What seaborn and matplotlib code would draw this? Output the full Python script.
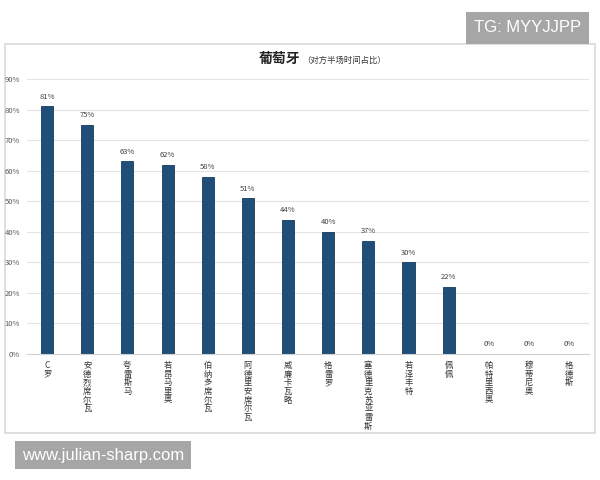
import numpy as np
import pandas as pd
import matplotlib
matplotlib.use("Agg")
import matplotlib.pyplot as plt
import seaborn as sns
from matplotlib.patches import Rectangle

# data
players = ["C罗", "安德烈席尔瓦", "夸雷斯马", "若昂马里奥", "伯纳多席尔瓦",
           "阿德里安席尔瓦", "威廉卡瓦略", "格雷罗", "塞德里克苏亚雷斯",
           "若泽丰特", "佩佩", "帕特里西奥", "穆蒂尼奥", "格德斯"]
share = [81, 75, 63, 62, 58, 51, 44, 40, 37, 30, 22, 0, 0, 0]
yticks = [0, 10, 20, 30, 40, 50, 60, 70, 80, 90]

df = pd.DataFrame({"player": players, "share": share})

sns.set_style("white")
plt.rcParams['font.family'] = ['Noto Sans CJK SC', 'DejaVu Sans']

fig = plt.figure(figsize=(6, 4.8), dpi=100)

# chart panel border
fig.patches.append(Rectangle((0.008, 0.098), 0.984, 0.81, transform=fig.transFigure,
                             facecolor='white', edgecolor='#d9d9d9', lw=1.2, zorder=-1))

ax = fig.add_axes([0.045, 0.2625, 0.937, 0.573])
sns.barplot(data=df, x="player", y="share", color="#1f4e79", width=0.3,
            saturation=1, edgecolor="#163a5c", linewidth=0.6, ax=ax)

ax.bar_label(ax.containers[0], labels=[f"{v}%" for v in share],
             fontsize=5.5, color="#404040", padding=4)

ax.set_ylim(0, 90)
ax.set_xlim(-0.5, len(players) - 0.5)
ax.set_yticks(yticks)
ax.set_yticklabels([f"{t}%" for t in yticks], fontsize=5.5, color="#595959")
ax.yaxis.grid(True, color="#e3e3e3", lw=0.8)
ax.set_axisbelow(True)
ax.set_xticks(range(len(players)))
ax.set_xticklabels(["\n".join(p) for p in players], fontsize=6, color="#333333",
                   linespacing=0.95, va="top")
ax.tick_params(axis='both', length=0, pad=5)
ax.set_xlabel("")
ax.set_ylabel("")
for s in ["top", "right", "left"]:
    ax.spines[s].set_visible(False)
ax.spines["bottom"].set_color("#d0d0d0")
ax.patch.set_alpha(0)

# title
fig.text(0.5, 0.877, "葡萄牙", fontsize=10, fontweight='bold', ha='right', va='center',
         color='#222222')
fig.text(0.503, 0.875, "（对方半场时间占比）", fontsize=6, ha='left', va='center',
         color='#333333')

# watermarks
fig.text(0.879, 0.942, "TG: MYYJJPP", fontsize=12, color='white', ha='center', va='center',
         family=['Liberation Sans', 'DejaVu Sans'],
         bbox=dict(boxstyle='square,pad=0.5', facecolor='#a6a6a6', edgecolor='none'))
fig.text(0.172, 0.052, "www.julian-sharp.com", fontsize=12, color='white', ha='center',
         va='center', family=['Liberation Sans', 'DejaVu Sans'],
         bbox=dict(boxstyle='square,pad=0.4', facecolor='#a6a6a6', edgecolor='none'))

fig.savefig("out.png", dpi=100)
